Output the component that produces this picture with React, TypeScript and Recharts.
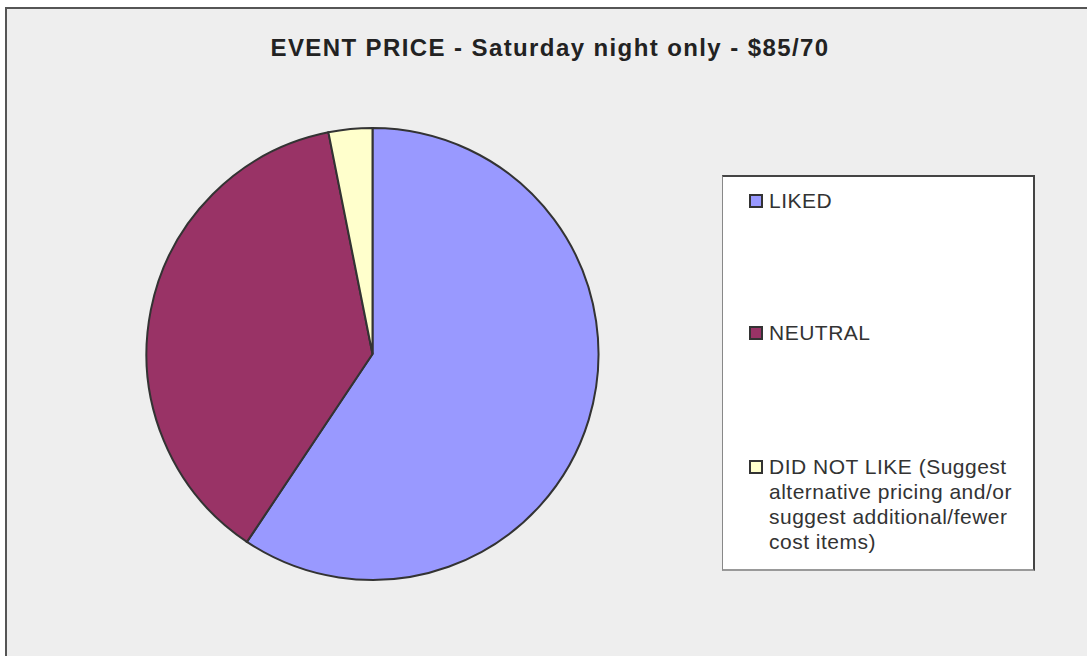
import React from "react";
import { PieChart, Pie, Cell, Legend } from "recharts";

const categories = [
  "LIKED",
  "NEUTRAL",
  "DID NOT LIKE (Suggest alternative pricing and/or suggest additional/fewer cost items)",
];
const values = [19, 12, 1];
const colors = ["#9999FF", "#993366", "#FFFFCC"];
const title = "EVENT PRICE - Saturday night only - $85/70";

const data = categories.map((name, i) => ({ name, value: values[i] }));

const legendTops = [11, 143, 277];

function LegendContent(props: any) {
  const payload = [...(props.payload || [])].sort(
    (a: any, b: any) => categories.indexOf(a.value) - categories.indexOf(b.value)
  );
  return (
    <div
      style={{
        position: "relative",
        width: 313,
        height: 396,
        background: "#FFFFFF",
        borderTop: "2px solid #444",
        borderRight: "2px solid #444",
        borderLeft: "1px solid #888",
        borderBottom: "2px solid #999",
        boxSizing: "border-box",
        fontFamily: "'Liberation Sans', Arial, sans-serif",
        fontSize: 21,
        letterSpacing: 0.5,
        lineHeight: "25px",
        color: "#333",
      }}
    >
      {payload.map((entry: any, i: number) => (
        <div
          key={i}
          style={{
            position: "absolute",
            left: 26,
            top: legendTops[i],
            display: "flex",
            alignItems: "flex-start",
          }}
        >
          <div
            style={{
              width: 14,
              height: 14,
              marginTop: 6,
              background: entry.color,
              border: "2px solid #333",
              boxSizing: "border-box",
              flexShrink: 0,
            }}
          />
          <div style={{ marginLeft: 6, width: 256, textAlign: "left" }}>{entry.value}</div>
        </div>
      ))}
    </div>
  );
}

export default function App() {
  return (
    <div
      style={{
        position: "absolute",
        left: 0,
        top: 0,
        width: 1087,
        height: 656,
        background: "#FFFFFF",
        overflow: "hidden",
      }}
    >
      <div
        style={{
          position: "absolute",
          left: 5,
          top: 7,
          width: 1100,
          height: 700,
          background: "#EEEEEE",
          borderTop: "2px solid #555",
          borderLeft: "2px solid #555",
          boxSizing: "border-box",
        }}
      />
      <div
        style={{
          position: "absolute",
          left: 0,
          top: 34,
          width: 1100,
          textAlign: "center",
          fontFamily: "'Liberation Sans', Arial, sans-serif",
          fontWeight: "bold",
          fontSize: 24,
          letterSpacing: 1.4,
          lineHeight: "28px",
          color: "#222",
        }}
      >
        {title}
      </div>
      <div style={{ position: "absolute", left: 0, top: 0 }}>
        <PieChart width={1087} height={656} margin={{ top: 0, right: 0, bottom: 0, left: 0 }}>
          <Pie
            data={data}
            dataKey="value"
            nameKey="name"
            cx={372.5}
            cy={354}
            outerRadius={226}
            startAngle={90}
            endAngle={-270}
            stroke="#333"
            strokeWidth={2}
            isAnimationActive={false}
            legendType="square"
          >
            {data.map((d, i) => (
              <Cell key={d.name} fill={colors[i]} stroke="#333" strokeWidth={2} />
            ))}
          </Pie>
          <Legend
            layout="vertical"
            content={<LegendContent />}
            wrapperStyle={{ position: "absolute", left: 722, top: 175, width: 313, height: 396 }}
          />
        </PieChart>
      </div>
    </div>
  );
}
